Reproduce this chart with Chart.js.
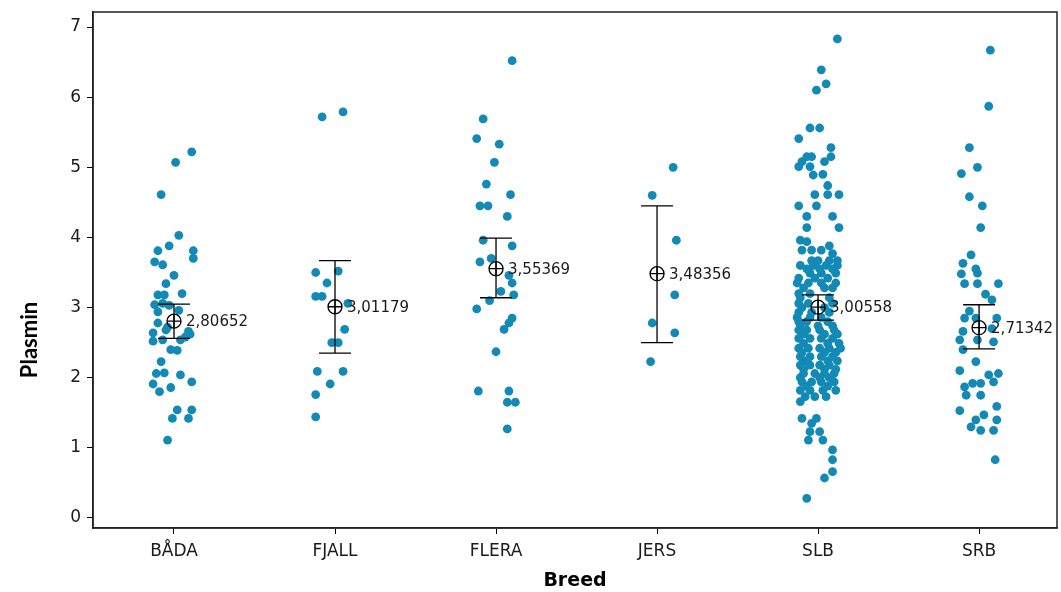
<!DOCTYPE html>
<html>
<head>
<meta charset="utf-8">
<script src="https://cdn.jsdelivr.net/npm/chart.js@4/dist/chart.umd.min.js"></script>
<style>
html,body{margin:0;padding:0;background:#fff;}
#wrap{width:1061px;height:592px;}
</style>
</head>
<body>
<div id="wrap"><canvas id="c" width="1061" height="592"></canvas></div>
<script>
// ---- data ----
const categories = ["BÅDA", "FJALL", "FLERA", "JERS", "SLB", "SRB"];
const yTickValues = [0, 1, 2, 3, 4, 5, 6, 7];
const xTitle = "Breed";
const yTitle = "Plasmin";

// individual values: [jitter offset (category units), Plasmin]
const badaPoints = [
  [0.11,5.22],[0.01,5.07],[-0.08,4.61],[0.03,4.03],[-0.03,3.88],[-0.10,3.81],[0.12,3.81],
  [0.12,3.70],[-0.12,3.65],[-0.07,3.61],[0.00,3.46],[-0.05,3.34],[0.05,3.20],[-0.10,3.18],
  [-0.06,3.18],[-0.12,3.04],[-0.07,3.06],[-0.03,3.03],[0.03,2.96],[-0.10,2.94],[-0.10,2.78],
  [-0.04,2.72],[-0.05,2.68],[0.09,2.66],[-0.13,2.64],[0.10,2.62],[0.07,2.58],[-0.13,2.52],
  [-0.07,2.54],[0.04,2.54],[-0.02,2.40],[0.02,2.39],[-0.08,2.23],[-0.11,2.06],[-0.06,2.07],
  [0.04,2.04],[0.11,1.94],[-0.13,1.91],[-0.02,1.86],[-0.09,1.80],[0.02,1.54],[0.11,1.54],
  [-0.01,1.42],[0.09,1.42],[-0.04,1.11]
];
const fjallPoints = [
  [0.05,5.79],[-0.08,5.72],[-0.12,3.50],[0.02,3.52],[-0.05,3.35],[-0.12,3.16],[-0.08,3.16],
  [0.08,3.06],[0.06,2.69],[-0.02,2.50],[0.02,2.50],[-0.11,2.09],[0.05,2.09],[-0.03,1.91],
  [-0.12,1.76],[-0.12,1.44]
];
const fleraPoints = [
  [0.10,6.52],[-0.08,5.69],[-0.12,5.41],[0.02,5.33],[-0.01,5.07],[-0.06,4.76],[0.09,4.61],
  [-0.10,4.45],[-0.05,4.45],[0.07,4.30],[-0.08,3.96],[0.10,3.88],[-0.10,3.65],[-0.03,3.70],
  [0.08,3.46],[0.10,3.35],[0.03,3.23],[0.11,3.18],[-0.04,3.10],[-0.12,2.98],[0.10,2.85],
  [0.08,2.78],[0.05,2.69],[0.00,2.37],[-0.11,1.81],[0.08,1.81],[0.07,1.65],[0.12,1.65],
  [0.07,1.27]
];
const jersPoints = [
  [0.10,5.00],[-0.03,4.60],[0.12,3.96],[0.11,3.18],[-0.03,2.78],[0.11,2.64],[-0.04,2.23]
];
const slbPoints = [
  [0.12,6.83],[0.02,6.39],[0.05,6.19],[-0.01,6.10],[-0.05,5.56],[0.01,5.56],[-0.12,5.41],
  [0.08,5.28],[-0.07,5.15],[-0.04,5.15],[0.08,5.15],[-0.10,5.08],[0.04,5.08],[-0.12,5.01],
  [-0.05,5.01],[-0.03,4.89],[0.03,4.90],[0.06,4.74],[-0.02,4.61],[0.06,4.61],[0.13,4.61],
  [-0.12,4.45],[-0.01,4.45],[-0.07,4.30],[0.09,4.30],[-0.07,4.14],[0.13,4.14],[-0.11,3.96],
  [-0.07,3.94],[-0.10,3.82],[-0.04,3.82],[0.02,3.82],[0.07,3.88],[0.09,3.77],[-0.04,3.67],
  [0.00,3.67],[0.07,3.67],[0.12,3.67],
  [-0.11,3.60],[-0.03,3.60],[0.05,3.60],[0.12,3.60],
  [-0.07,3.55],[0.01,3.55],[0.09,3.55],
  [-0.05,3.49],[0.02,3.49],[0.11,3.49],
  [-0.12,3.42],[-0.02,3.42],[0.06,3.42],
  [-0.13,3.35],[-0.06,3.35],[0.02,3.35],[0.11,3.35],
  [-0.09,3.28],[0.04,3.28],[0.09,3.28],
  [-0.12,3.20],[-0.05,3.20],
  [-0.11,3.14],[0.07,3.14],
  [-0.12,3.06],[-0.06,3.06],[0.09,3.06],
  [-0.10,3.00],[0.04,3.00],
  [-0.12,2.93],[-0.04,2.93],[0.07,2.93],
  [-0.13,2.86],[-0.05,2.86],[0.02,2.86],
  [-0.12,2.80],[-0.07,2.80],[0.06,2.80],
  [-0.11,2.74],[0.00,2.74],[0.09,2.74],
  [-0.12,2.68],[-0.07,2.68],[0.01,2.68],[0.10,2.68],
  [-0.09,2.62],[0.04,2.62],[0.12,2.62],
  [-0.12,2.56],[-0.05,2.56],[0.02,2.56],[0.09,2.56],
  [-0.09,2.49],[0.06,2.49],[0.13,2.49],
  [-0.12,2.42],[-0.06,2.42],[0.01,2.42],[0.07,2.42],[0.14,2.42],
  [-0.10,2.36],[0.04,2.36],[0.11,2.36],
  [-0.11,2.30],[-0.05,2.30],[0.02,2.30],[0.09,2.30],
  [-0.08,2.24],[0.06,2.24],[0.12,2.24],
  [-0.11,2.18],[-0.05,2.18],[0.01,2.18],[0.07,2.18],
  [-0.09,2.12],[0.04,2.12],[0.11,2.12],
  [-0.09,2.06],[-0.02,2.06],[0.04,2.06],[0.10,2.06],
  [-0.11,2.00],[0.01,2.00],[0.07,2.00],
  [-0.10,1.94],[-0.04,1.94],[0.02,1.94],[0.10,1.94],
  [-0.07,1.88],[0.06,1.88],
  [-0.11,1.82],[-0.05,1.82],[0.03,1.82],[0.11,1.82],
  [-0.08,1.73],[-0.02,1.73],[0.05,1.73],
  [-0.11,1.66],
  [-0.10,1.42],[-0.01,1.42],[-0.04,1.35],[-0.05,1.23],[0.01,1.23],[-0.06,1.11],[0.03,1.11],
  [0.09,0.97],[0.09,0.83],[0.09,0.66],[0.04,0.57],[-0.07,0.28]
];
const srbPoints = [
  [0.07,6.67],[0.06,5.87],[-0.06,5.28],[-0.01,5.00],[-0.11,4.91],[-0.06,4.58],[0.02,4.45],
  [0.01,4.14],[-0.05,3.75],[-0.10,3.63],[-0.02,3.55],[-0.11,3.48],[-0.01,3.49],[-0.09,3.34],
  [-0.01,3.34],[0.12,3.34],[0.04,3.19],[0.08,3.11],[-0.06,2.95],[-0.09,2.85],[-0.02,2.85],
  [0.11,2.85],[-0.10,2.66],[0.08,2.70],[-0.12,2.54],[-0.01,2.54],[0.09,2.51],[-0.10,2.40],
  [-0.02,2.23],[-0.12,2.10],[0.06,2.04],[0.12,2.06],[0.09,1.94],[-0.04,1.92],[0.01,1.92],
  [-0.09,1.87],[-0.08,1.75],[0.01,1.75],[-0.12,1.53],[0.11,1.59],[0.03,1.47],[-0.02,1.40],
  [0.11,1.40],[-0.05,1.30],[0.01,1.25],[0.09,1.25],[0.10,0.83]
];
const groupPoints = [badaPoints, fjallPoints, fleraPoints, jersPoints, slbPoints, srbPoints];

// means and 95% CI
const means  = [2.80652, 3.01179, 3.55369, 3.48356, 3.00558, 2.71342];
const ciLow  = [2.56, 2.35, 3.14, 2.50, 2.82, 2.41];
const ciHigh = [3.05, 3.67, 3.99, 4.45, 3.18, 3.04];

// ---- chart ----
const dotColor = '#138ab6';
const tickFont = {family: 'DejaVu Sans', size: 17};
const scatterData = [];
groupPoints.forEach((pts, gi) => pts.forEach(p => scatterData.push({x: gi + 1 + p[0], y: p[1]})));
const meanData = means.map((m, i) => ({x: i + 1, y: m}));

const frameAndBars = {
  id: 'frameAndBars',
  afterDatasetsDraw(chart) {
    const {ctx, scales: {x, y}} = chart;
    ctx.save();
    ctx.strokeStyle = '#000';
    ctx.lineWidth = 1.3;
    means.forEach((m, i) => {
      const px = x.getPixelForValue(i + 1);
      const yl = y.getPixelForValue(ciLow[i]);
      const yh = y.getPixelForValue(ciHigh[i]);
      ctx.beginPath();
      ctx.moveTo(px, yl); ctx.lineTo(px, yh);
      ctx.moveTo(px - 16, yl); ctx.lineTo(px + 16, yl);
      ctx.moveTo(px - 16, yh); ctx.lineTo(px + 16, yh);
      ctx.stroke();
    });
    ctx.restore();
  },
  afterDraw(chart) {
    const {ctx, chartArea: a, scales: {x, y}} = chart;
    ctx.save();
    ctx.strokeStyle = '#222';
    ctx.lineWidth = 1.5;
    ctx.strokeRect(a.left, a.top, a.right - a.left, a.bottom - a.top);
    // mean labels
    ctx.fillStyle = '#1a1a1a';
    ctx.font = '15px "DejaVu Sans"';
    ctx.textBaseline = 'middle';
    ctx.textAlign = 'left';
    means.forEach((m, i) => {
      const px = x.getPixelForValue(i + 1);
      const py = y.getPixelForValue(m);
      ctx.fillText(m.toFixed(5).replace('.', ','), px + 12, py + 1);
    });
    // y title
    ctx.font = 'bold 22px Lato';
    ctx.fillStyle = '#000';
    ctx.translate(30, 340);
    ctx.rotate(-Math.PI / 2);
    ctx.textAlign = 'center';
    ctx.fillText(yTitle, 0, 0);
    ctx.restore();
  }
};

new Chart(document.getElementById('c'), {
  type: 'scatter',
  data: {
    datasets: [
      {data: scatterData, pointRadius: 4.4, pointHoverRadius: 4.4, backgroundColor: dotColor, borderWidth: 0, order: 3},
      {data: meanData, pointStyle: 'circle', pointRadius: 7, backgroundColor: 'rgba(0,0,0,0)', borderColor: '#000', borderWidth: 1.3, order: 1},
      {data: meanData, pointStyle: 'cross', pointRadius: 7, borderColor: '#000', borderWidth: 1.3, order: 2}
    ]
  },
  plugins: [frameAndBars],
  options: {
    responsive: false,
    animation: false,
    events: [],
    layout: {autoPadding: false, padding: {top: 12, right: 4, left: 0, bottom: 0}},
    plugins: {legend: {display: false}, tooltip: {enabled: false}},
    scales: {
      x: {
        type: 'linear', min: 0.497, max: 6.484,
        afterBuildTicks: s => { s.ticks = categories.map((c, i) => ({value: i + 1})); },
        afterFit: s => { s.height = 64; s.paddingLeft = 0; s.paddingRight = 0; s.paddingTop = 0; s.paddingBottom = 0; },
        grid: {drawOnChartArea: false, drawTicks: true, tickLength: 6, color: '#000'},
        border: {display: true, color: '#222', width: 1.5},
        ticks: {color: '#1a1a1a', font: tickFont, padding: 7, maxRotation: 0, autoSkip: false,
          callback: v => categories[Math.round(v) - 1] || ''},
        title: {display: true, text: xTitle, color: '#000', font: {family: 'DejaVu Sans', size: 19, weight: 'bold'}, padding: {top: 0, bottom: 0}}
      },
      y: {
        type: 'linear', min: -0.143, max: 7.214,
        afterBuildTicks: s => { s.ticks = yTickValues.map(v => ({value: v})); },
        afterFit: s => { s.width = 93; s.paddingLeft = 0; s.paddingRight = 0; s.paddingTop = 0; s.paddingBottom = 0; },
        grid: {drawOnChartArea: false, drawTicks: true, tickLength: 6, color: '#000'},
        border: {display: true, color: '#222', width: 1.5},
        ticks: {color: '#1a1a1a', font: tickFont, padding: 6, callback: v => String(v)}
      }
    }
  }
});
</script>
</body>
</html>
